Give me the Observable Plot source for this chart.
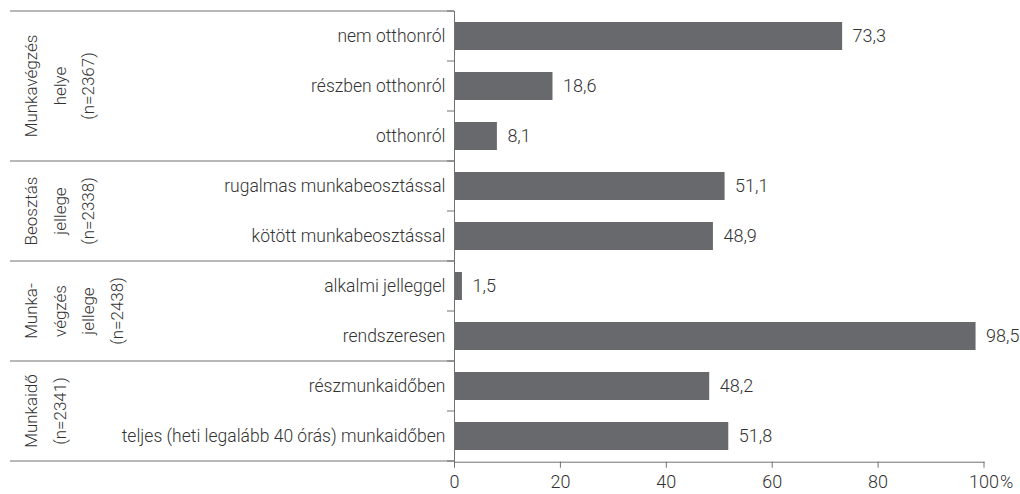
<!DOCTYPE html>
<html><head><meta charset="utf-8">
<script src="https://cdn.jsdelivr.net/npm/d3@7"></script>
<script src="https://cdn.jsdelivr.net/npm/@observablehq/plot@0.6"></script>
<style>
body{margin:0;background:#fff;}
#chart svg text{font-weight:300;}
</style></head><body><div id="chart"></div>
<script>
const categories = ["nem otthonról","részben otthonról","otthonról","rugalmas munkabeosztással","kötött munkabeosztással","alkalmi jelleggel","rendszeresen","részmunkaidőben","teljes (heti legalább 40 órás) munkaidőben"];
const values = [73.3,18.6,8.1,51.1,48.9,1.5,98.5,48.2,51.8];
const groupLabels = ["Munkavégzés\nhelye\n(n=2367)","Beosztás\njellege\n(n=2338)","Munka-\nvégzés\njellege\n(n=2438)","Munkaidő\n(n=2341)"];
const groupSizes = [3,2,2,2];
const xTicks = [0,20,40,60,80,100];
const xTickLabels = ["0","20","40","60","80","100"];
const xUnit = "%";

const LINE = "#707070";
const TEXT = "#333333";
const BAR = "#68696d";
const PAD_INNER = 0.44;
const data = categories.map((c,i)=>({category:c, value:values[i]}));
const fmt = v => v.toFixed(1).replace(".", ",");

function groupDecor(index, scales, vals, dims) {
  const y = scales.y, x = scales.x;
  const step = y(categories[1]) - y(categories[0]);
  const bw = typeof y.bandwidth === "function" ? y.bandwidth() : step*(1-PAD_INNER);
  const mid = c => y(c) + bw/2;
  const x0 = x(0);
  const left = 10;
  const g = d3.create("svg:g");
  const bounds = categories.map(c => mid(c) - step/2);
  bounds.push(mid(categories[categories.length-1]) + step/2);
  g.append("g").selectAll("line").data(bounds).join("line")
    .attr("x1", x0-7).attr("x2", x0).attr("y1", d=>d).attr("y2", d=>d).attr("stroke", LINE);
  let k = 0; const gb=[bounds[0]]; const gm=[];
  groupSizes.forEach(n => { const a=bounds[k], b=bounds[k+n]; gb.push(b); gm.push((a+b)/2); k+=n; });
  g.append("g").selectAll("line").data(gb).join("line")
    .attr("x1", left).attr("x2", x0).attr("y1", d=>d).attr("y2", d=>d).attr("stroke", LINE);
  const t = g.append("g").attr("font-size",17).attr("fill",TEXT).attr("text-anchor","middle");
  groupLabels.forEach((lab,i)=>{
    const text = t.append("text").attr("transform",`translate(37,${gm[i]}) rotate(-90)`);
    lab.split("\n").forEach((ln,j)=> text.append("tspan").attr("x",0).attr("y", j*28.5).text(ln));
  });
  return g.node();
}

const chart = Plot.plot({
  width:1020, height:494, marginLeft:454, marginRight:36.5, marginTop:11, marginBottom:32.3,
  style:{fontFamily:"Roboto, sans-serif", fontSize:"17.5px", color:TEXT, background:"#fff"},
  x:{domain:[0,100]},
  y:{domain:categories, paddingInner:PAD_INNER, paddingOuter:PAD_INNER/2},
  marks:[
    Plot.barX(data,{x:"value", y:"category", fill:BAR}),
    Plot.text(data,{x:"value", y:"category", text:d=>fmt(d.value), textAnchor:"start", dx:10, fill:TEXT, fontSize:18}),
    Plot.axisY({tickSize:0, tickPadding:9, fontSize:17.5, label:null}),
    Plot.axisX({ticks:xTicks, tickSize:6, tickPadding:7, tickFormat:(d,i)=>xTickLabels[xTicks.indexOf(d)], fontSize:18, label:null, stroke:LINE}),
    Plot.text([xTicks[xTicks.length-1]], {x:d=>d, text:()=>xUnit, frameAnchor:"bottom", lineAnchor:"top", textAnchor:"start", dy:13, dx:16, fontSize:18, fill:TEXT}),
    Plot.frame({anchor:"left", stroke:LINE}),
    Plot.frame({anchor:"bottom", stroke:LINE}),
    groupDecor
  ]
});
document.getElementById("chart").append(chart);
</script></body></html>
